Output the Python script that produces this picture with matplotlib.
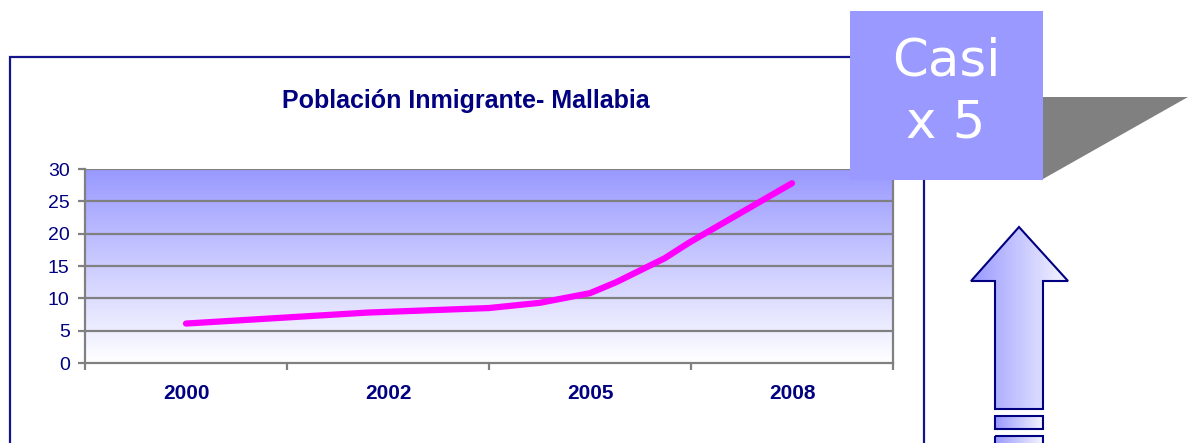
import numpy as np
import matplotlib
matplotlib.use("Agg")
import matplotlib.pyplot as plt
from matplotlib.patches import Rectangle, Polygon

# Datos
anios = ["2000", "2002", "2005", "2008"]
posicion = [0.0, 0.90, 1.50, 1.75, 2.0, 2.13, 2.37, 2.49, 3.0]   # posicion sobre el eje de categorias
poblacion = [6.1, 7.8, 8.5, 9.3, 10.8, 12.5, 16.2, 18.6, 27.8]
y_ticks = [0, 5, 10, 15, 20, 25, 30]

titulo = "Población Inmigrante- Mallabia"
etiqueta = ["Casi", "x 5"]

W, H = 1194, 443
navy = "#000080"
marco = "#14148c"
lila = "#9999ff"

fig = plt.figure(figsize=(W / 100, H / 100), dpi=100)
fig.patch.set_facecolor("white")

# ejes del grafico (en pixeles de la imagen)
x0, x1, y0, y1 = 85, 893, 169, 363
ax = fig.add_axes([x0 / W, 1 - y1 / H, (x1 - x0) / W, (y1 - y0) / H])
ax.set_xlim(-0.5, len(anios) - 0.5)
ax.set_ylim(0, 30)

# fondo degradado
grad = np.linspace(0, 1, 256).reshape(-1, 1)
c_top = np.array([0x99, 0x99, 0xff]) / 255
c_bot = np.array([1.0, 1.0, 1.0])
img = c_bot + (c_top - c_bot) * grad[..., None]
ax.imshow(img, extent=(-0.5, len(anios) - 0.5, 0, 30), origin="lower",
          aspect="auto", zorder=0)

for v in y_ticks[1:]:
    ax.axhline(v, color="#808080", lw=1.6, zorder=1)

ax.plot(posicion, poblacion, color="#ff00ff", lw=4.5, solid_capstyle="round",
        solid_joinstyle="round", zorder=3)

for s in ["left", "bottom", "right"]:
    ax.spines[s].set_color("#808080")
    ax.spines[s].set_linewidth(1.6)
ax.spines["top"].set_visible(False)

ax.set_yticks(y_ticks)
ax.set_yticklabels([str(v) for v in y_ticks], color=navy, fontsize=14,
                   family="Liberation Sans")
ax.tick_params(axis="y", length=5, width=1.6, color="#808080", pad=6)

ax.set_xticks(range(len(anios)))
ax.set_xticklabels(anios, color=navy, fontsize=15, fontweight="bold",
                   family="Liberation Sans")
ax.set_xticks(np.arange(-0.5, len(anios)), minor=True)
ax.tick_params(axis="x", which="major", length=0, pad=15)
ax.tick_params(axis="x", which="minor", length=5, width=1.6, color="#808080")

# capa superior para marco, recuadro y flecha
ov = fig.add_axes([0, 0, 1, 1], zorder=5)
ov.set_xlim(0, W)
ov.set_ylim(H, 0)
ov.axis("off")
ov.patch.set_alpha(0)

# marco del grafico
ov.plot([10, 10, 924, 924], [H + 5, 57, 57, H + 5], color=marco, lw=1.6,
        solid_joinstyle="miter", zorder=1)

ov.text(466, 101, titulo, ha="center", va="center", color=navy, fontsize=18,
        fontweight="bold", family="Liberation Sans")

# sombra gris y recuadro
ov.add_patch(Polygon([(1000, 97), (1188, 97), (1043, 179), (1000, 179)],
                     closed=True, facecolor="#808080", edgecolor="none", zorder=2))
ov.add_patch(Rectangle((850, 11), 193, 169, facecolor=lila, edgecolor="none",
                       zorder=3))
ov.text(946, 75, etiqueta[0], ha="center", va="baseline", color="white",
        fontsize=37, family="DejaVu Sans", zorder=4)
ov.text(946, 138, etiqueta[1], ha="center", va="baseline", color="white",
        fontsize=37, family="DejaVu Sans", zorder=4)

# flecha con degradado
hgrad = np.linspace(0, 1, 256).reshape(1, -1)
c_l = np.array([0x99, 0x99, 0xff]) / 255
c_r = np.array([0.96, 0.96, 1.0])
himg = c_l + (c_r - c_l) * hgrad[..., None]

flecha = Polygon([(1019, 227), (1068, 281), (1043, 281), (1043, 409),
                  (995, 409), (995, 281), (971, 281)], closed=True,
                 facecolor="none", edgecolor=navy, lw=1.5, zorder=3)
ov.add_patch(flecha)
im = ov.imshow(himg, extent=(995, 1043, 409, 281), aspect="auto", zorder=2)
im.set_clip_path(flecha)
im2 = ov.imshow(himg, extent=(971, 1068, 409, 227), aspect="auto", zorder=2)
im2.set_clip_path(flecha)

for top, bot in [(416, 429), (436, 452)]:
    r = Rectangle((995, top), 48, bot - top, facecolor="none", edgecolor=navy,
                  lw=1.5, zorder=3)
    ov.add_patch(r)
    imr = ov.imshow(himg, extent=(995, 1043, bot, top), aspect="auto", zorder=2)
    imr.set_clip_path(r)

ov.set_xlim(0, W)
ov.set_ylim(H, 0)

fig.savefig("out.png", dpi=100)
